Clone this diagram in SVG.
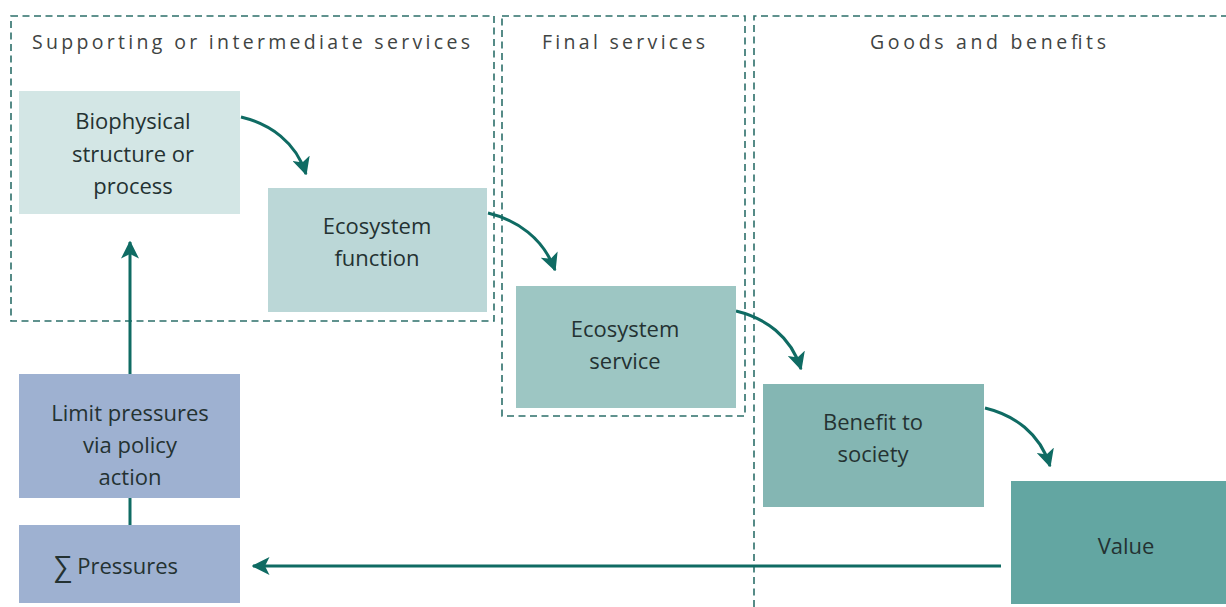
<svg xmlns="http://www.w3.org/2000/svg" width="1226" height="607" viewBox="0 0 1226 607">
<style>
.zone{fill:none;stroke:#2c6f6a;stroke-width:1.6;stroke-dasharray:7,4.5}
.head{font-family:"Open Sans","Noto Sans",sans-serif;font-size:19.5px;fill:#3f4443}
.lbl{font-family:"Open Sans","Noto Sans",sans-serif;font-size:22px;fill:#243232;text-anchor:middle}
.con{fill:none;stroke:#0f6b63;stroke-width:3}
</style>
<defs>
<marker id="ah" viewBox="0 0 12 12" refX="11" refY="6" markerWidth="6" markerHeight="6" orient="auto" markerUnits="strokeWidth">
<path d="M0,0 L12,6 L0,12 L3,6 Z" fill="#0f6b63"/>
</marker>
</defs>
<rect width="1226" height="607" fill="#ffffff"/>
<g id="zones">
<rect class="zone" x="11" y="16" width="483" height="305"/>
<text class="head" x="32" y="49" textLength="438" lengthAdjust="spacing">Supporting or intermediate services</text>
<rect class="zone" x="502" y="16" width="243" height="400"/>
<text class="head" x="542" y="49" textLength="163" lengthAdjust="spacing">Final services</text>
<path class="zone" d="M754,607 L754,16 L1226,16"/>
<text class="head" x="870" y="49" textLength="236" lengthAdjust="spacing">Goods and benefits</text>
</g>
<g id="connectors">
<path class="con" d="M241,117 C270,124 296,142 306,174" marker-end="url(#ah)"/>
<path class="con" d="M488,213 C517,220 543,238 555,270" marker-end="url(#ah)"/>
<path class="con" d="M736,311 C765,318 791,336 801,369" marker-end="url(#ah)"/>
<path class="con" d="M985,408 C1014,415 1040,433 1050,466" marker-end="url(#ah)"/>
<path class="con" d="M130,374 L130,242" marker-end="url(#ah)"/>
<path class="con" d="M130,497 L130,525"/>
<path class="con" d="M1001,566 L253,566" marker-end="url(#ah)"/>
</g>
<g id="node-biophysical">
<rect x="19" y="91" width="221" height="123" fill="#d3e6e5"/>
<text class="lbl" x="133" y="129">Biophysical</text>
<text class="lbl" x="133" y="162">structure or</text>
<text class="lbl" x="133" y="194">process</text>
</g>
<g id="node-function">
<rect x="268" y="188" width="219" height="124" fill="#bbd7d7"/>
<text class="lbl" x="377" y="234">Ecosystem</text>
<text class="lbl" x="377" y="266">function</text>
</g>
<g id="node-service">
<rect x="516" y="286" width="220" height="122" fill="#9dc6c3"/>
<text class="lbl" x="625" y="337">Ecosystem</text>
<text class="lbl" x="625" y="369">service</text>
</g>
<g id="node-benefit">
<rect x="763" y="384" width="221" height="123" fill="#84b6b3"/>
<text class="lbl" x="873" y="430">Benefit to</text>
<text class="lbl" x="873" y="462">society</text>
</g>
<g id="node-value">
<rect x="1011" y="481" width="215" height="123" fill="#63a6a2"/>
<text class="lbl" x="1126" y="554">Value</text>
</g>
<g id="node-limit">
<rect x="19" y="374" width="221" height="124" fill="#9eb1d1"/>
<text class="lbl" x="130" y="421">Limit pressures</text>
<text class="lbl" x="130" y="453">via policy</text>
<text class="lbl" x="130" y="485">action</text>
</g>
<g id="node-pressures">
<rect x="19" y="525" width="221" height="78" fill="#9eb1d1"/>
<text class="lbl" x="116" y="574"><tspan font-size="28" dy="2">∑</tspan><tspan dy="-2"> Pressures</tspan></text>
</g>
</svg>
